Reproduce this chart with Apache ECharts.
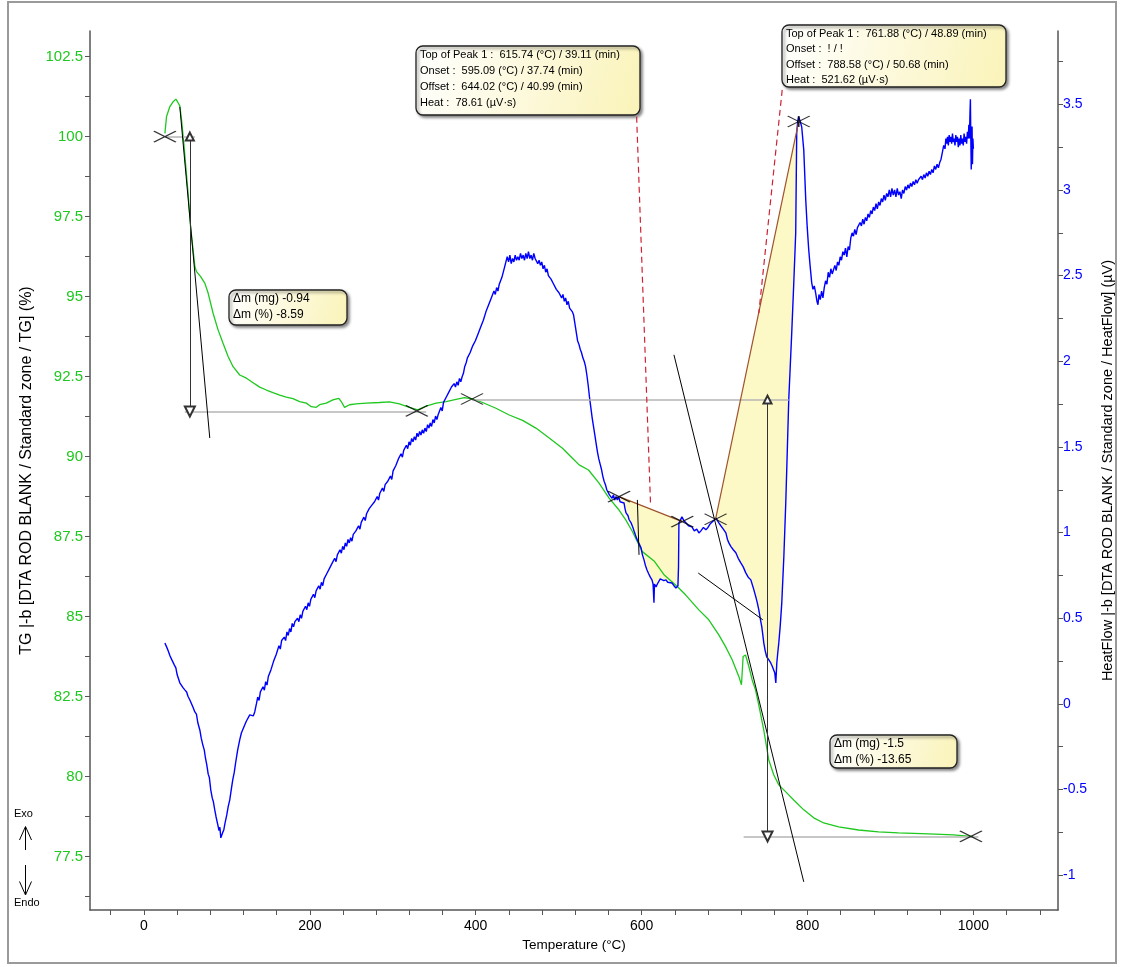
<!DOCTYPE html>
<html>
<head>
<meta charset="utf-8">
<script src="https://cdn.jsdelivr.net/npm/echarts@6/dist/echarts.min.js"></script>
<style>
  html, body { margin: 0; padding: 0; background: #fff; }
  #chart { width: 1123px; height: 967px; }
</style>
</head>
<body>
<div id="chart"></div>
<script>
// Thermogravimetric (TG) trace: [temperature °C, mass %]
const tgCurve = [
  [25.3,100.1],[27.3,100.63],[31.3,100.94],[35.3,101.09],[38.5,101.17],[40.5,101.09],[43.3,100.96],
  [45.4,100.52],[48.1,99.79],[50.5,99.06],[53.3,98.23],[56.2,97.19],[59.3,96.46],[61.4,95.94],
  [63.4,95.78],[65.8,95.83],[68.2,95.63],[73.4,95.42],[77.4,95.11],[83.4,94.48],[89.4,93.96],
  [95.4,93.54],[101.5,93.13],[107.5,92.81],[115.5,92.55],[123.6,92.45],[131.6,92.31],[139.6,92.17],
  [147.6,92.08],[155.6,92.0],[163.7,91.92],[171.7,91.86],[179.7,91.81],[187.7,91.72],[195.8,91.67],
  [201.8,91.56],[207.8,91.54],[211.8,91.62],[219.8,91.67],[227.8,91.77],[235.0,91.82],[237.9,91.72],
  [241.9,91.54],[247.9,91.62],[255.9,91.65],[268.0,91.67],[284.0,91.69],[296.0,91.71],[308.1,91.65],
  [320.1,91.54],[330.1,91.46],[340.2,91.58],[352.2,91.67],[364.3,91.72],[376.3,91.79],[386.3,91.84],
  [396.3,91.80],[408.3,91.69],[424.4,91.51],[440.4,91.30],[456.5,91.13],[472.6,90.89],[488.6,90.58],
  [504.6,90.26],[516.6,89.95],[524.7,89.74],[536.0,89.58],[548.7,89.17],[560.8,88.70],[572.8,88.33],
  [580.9,88.02],[588.9,87.66],[594.9,87.34],[600.9,87.03],[615.0,86.74],[627.0,86.31],[643.0,85.94],
  [653.0,85.68],[669.0,85.21],[681.0,84.90],[693.1,84.43],[701.2,84.06],[709.2,83.65],[717.2,83.13],
  [720.4,82.87],[722.4,83.75],[725.3,83.80],[729.3,83.44],[733.3,83.02],[737.3,82.71],[741.3,82.23],
  [747.3,81.45],[753.3,80.52],[759.4,80.05],[765.4,79.74],[775.0,79.49],[783.4,79.27],[795.5,78.96],
  [807.5,78.71],[819.5,78.55],[837.6,78.43],[861.6,78.33],[885.7,78.27],[909.7,78.24],[945.8,78.21],
  [975.9,78.18],[1000.0,78.12]
];

// Heat flow trace: [temperature °C, µV]
const heatFlowCurve = [
  [25.3,0.356],[26.5,0.36],[27.6,0.33],[28.9,0.315],[30.2,0.32],[31.5,0.28],[33.7,0.257],[35.0,0.262],
  [36.6,0.228],[38.5,0.21],[40.1,0.17],[41.6,0.18],[43.3,0.123],[45.2,0.13],[47.1,0.095],[49.3,0.082],
  [51.5,0.07],[53.1,0.045],[55.4,0.023],[57.0,0.03],[59.2,-0.02],[61.4,-0.047],[63.3,-0.06],[65.0,-0.11],
  [67.4,-0.152],[69.1,-0.2],[71.0,-0.239],[72.8,-0.27],[74.0,-0.31],[75.8,-0.356],[77.5,-0.41],[78.9,-0.43],
  [80.6,-0.502],[82.4,-0.55],[83.7,-0.57],[85.4,-0.619],[87.0,-0.66],[88.0,-0.67],[89.1,-0.706],[90.5,-0.74],
  [91.6,-0.72],[92.7,-0.782],[93.8,-0.79],[95.0,-0.75],[96.3,-0.736],[97.6,-0.70],[98.7,-0.69],[99.9,-0.648],
  [101.6,-0.60],[102.4,-0.61],[103.5,-0.56],[105.3,-0.50],[106.1,-0.51],[107.1,-0.444],[108.9,-0.40],
  [109.8,-0.41],[110.7,-0.339],[113.0,-0.27],[114.2,-0.28],[115.5,-0.21],[117.5,-0.17],[119.3,-0.16],
  [121.5,-0.123],[123.6,-0.10],[125.1,-0.11],[127.6,-0.064],[130.0,-0.06],[131.8,-0.07],[133.6,-0.047],
  [135.6,0.00],[137.2,0.04],[138.8,0.02],[140.4,0.07],[142.0,0.06],[143.6,0.10],[145.2,0.08],[146.8,0.13],
  [148.4,0.11],[150.0,0.16],[151.6,0.15],[153.2,0.20],[154.8,0.19],[156.4,0.25],[158.0,0.24],[159.6,0.29],
  [161.2,0.30],[162.8,0.34],[164.4,0.32],[166.0,0.37],[167.6,0.36],[169.2,0.39],[170.8,0.37],[172.4,0.42],
  [174.0,0.40],[175.6,0.44],[177.2,0.42],[178.8,0.47],[180.4,0.45],[182.0,0.48],[183.6,0.47],[185.2,0.50],
  [186.8,0.48],[188.4,0.52],[190.0,0.50],[191.6,0.54],[193.2,0.53],[194.8,0.57],[196.4,0.55],[198.0,0.59],
  [199.6,0.57],[201.2,0.61],[202.8,0.60],[204.4,0.64],[206.0,0.62],[207.6,0.66],[209.2,0.65],[210.8,0.69],
  [212.4,0.67],[214.0,0.71],[215.6,0.69],[217.2,0.73],[218.8,0.72],[220.4,0.76],[222.0,0.75],[223.6,0.79],
  [225.2,0.78],[226.8,0.82],[228.4,0.81],[230.0,0.85],[231.6,0.83],[233.2,0.87],[234.8,0.86],[236.4,0.90],
  [238.0,0.88],[239.6,0.92],[241.2,0.90],[242.8,0.94],[244.4,0.92],[246.0,0.96],[247.6,0.94],[249.2,0.97],
  [250.8,0.95],[252.4,0.99],[254.0,0.98],[255.6,1.01],[257.2,1.00],[258.8,1.04],[260.4,1.02],[262.0,1.06],
  [263.6,1.05],[265.2,1.09],[266.8,1.07],[268.4,1.11],[270.0,1.10],[271.6,1.14],[273.2,1.13],[274.8,1.16],
  [276.4,1.15],[278.0,1.18],[279.6,1.17],[281.2,1.21],[282.8,1.19],[284.4,1.23],[286.0,1.22],[287.6,1.26],
  [289.2,1.24],[290.8,1.28],[292.4,1.27],[294.0,1.30],[295.6,1.29],[297.2,1.33],[298.8,1.31],[300.4,1.36],
  [302.0,1.35],[303.6,1.39],[305.2,1.38],[306.8,1.43],[308.4,1.42],[310.0,1.46],[311.6,1.44],[313.2,1.48],
  [314.8,1.47],[316.4,1.51],[318.0,1.49],[319.6,1.53],[321.2,1.51],[322.8,1.55],[324.4,1.53],[326.0,1.56],
  [327.6,1.54],[329.2,1.58],[330.8,1.56],[332.4,1.59],[334.0,1.57],[335.6,1.60],[337.2,1.58],[338.8,1.61],
  [340.4,1.59],[342.0,1.63],[343.6,1.61],[345.2,1.64],[346.8,1.62],[348.4,1.66],[350.0,1.64],[351.6,1.68],
  [353.2,1.66],[354.8,1.69],[356.4,1.68],[358.0,1.73],[359.6,1.71],[361.2,1.76],[362.8,1.75],[364.4,1.79],
  [366.0,1.78],[367.6,1.82],[369.2,1.81],[370.8,1.85],[372.4,1.84],[374.0,1.87],[375.6,1.85],[377.2,1.88],
  [378.8,1.86],[380.4,1.90],[382.0,1.88],[383.6,1.91],[385.2,1.93],[386.8,1.97],[388.4,1.99],[390.0,2.02],
  [391.6,2.01],[393.2,2.05],[394.8,2.04],[396.4,2.09],[398.0,2.08],[399.6,2.12],[401.2,2.11],[402.8,2.16],
  [404.4,2.15],[406.0,2.20],[407.6,2.19],[409.2,2.24],[410.8,2.23],[412.4,2.29],[414.0,2.28],[415.6,2.33],
  [417.2,2.32],[418.8,2.37],[420.4,2.38],[422.0,2.41],[423.6,2.39],[425.2,2.43],[426.8,2.41],[428.4,2.45],
  [430.0,2.44],[431.6,2.49],[433.2,2.48],[434.8,2.55],[436.4,2.58],[438.0,2.61],[439.6,2.58],[441.2,2.62],
  [442.8,2.57],[444.4,2.60],[446.0,2.58],[447.6,2.62],[449.2,2.59],[450.8,2.61],[452.4,2.59],[454.0,2.63],
  [455.6,2.60],[457.2,2.62],[458.8,2.59],[460.4,2.63],[462.0,2.60],[463.6,2.64],[465.2,2.60],[466.8,2.62],
  [468.4,2.59],[470.0,2.63],[471.6,2.60],[473.2,2.61],[474.8,2.57],[476.4,2.59],[478.0,2.56],[479.6,2.58],
  [481.2,2.54],[482.8,2.56],[484.4,2.52],[486.0,2.54],[487.6,2.50],[489.2,2.51],[490.8,2.48],[492.4,2.49],
  [494.0,2.45],[495.6,2.46],[497.2,2.42],[498.8,2.43],[500.4,2.40],[502.0,2.41],[503.6,2.37],[505.2,2.39],
  [506.8,2.35],[508.4,2.37],[510.0,2.33],[511.6,2.35],[513.2,2.31],[514.8,2.32],[516.4,2.29],[518.0,2.27],
  [519.6,2.22],[521.2,2.17],[522.8,2.12],[524.4,2.10],[526.0,2.07],[527.6,2.05],[529.2,2.02],[530.8,2.00],
  [532.4,1.97],[534.0,1.92],[535.6,1.86],[537.2,1.79],[538.8,1.73],[540.4,1.67],[542.0,1.62],[543.6,1.57],
  [545.2,1.52],[546.8,1.47],[548.4,1.43],[550.0,1.40],[551.6,1.37],[553.2,1.33],[554.8,1.30],[556.4,1.28],
  [558.0,1.25],[559.6,1.24],[561.2,1.22],[562.8,1.23],[564.4,1.20],[566.0,1.22],[567.6,1.19],[569.2,1.21],
  [570.8,1.19],[572.4,1.21],[574.0,1.18],
  [575.5,1.19],[578.8,1.173],[580.0,1.14],[581.2,1.115],[583.5,1.10],[585.0,1.075],[587.3,1.057],[589.5,1.03],
  [591.5,1.00],[593.3,0.975],[595.5,0.95],[597.5,0.93],[599.3,0.911],[601.0,0.87],[602.9,0.841],[604.5,0.81],
  [606.5,0.782],[608.5,0.76],[610.5,0.74],[612.5,0.724],[613.8,0.70],[614.9,0.59],[615.5,0.70],[617.4,0.683],
  [619.0,0.70],[621.0,0.706],[622.5,0.73],[624.6,0.741],[626.8,0.72],[629.4,0.724],[631.5,0.71],[633.5,0.72],
  [636.6,0.706],[639.0,0.69],[641.4,0.677],[643.8,0.689],[644.5,0.80],[645.0,1.057],[646.5,1.07],[648.6,1.092],
  [651.0,1.07],[653.4,1.057],[656.5,1.04],[658.5,1.05],[660.7,1.033],[663.5,1.01],[666.5,1.02],[669.1,0.998],
  [671.5,1.01],[674.5,1.03],[677.5,1.016],[680.0,1.03],[682.5,1.05],[684.7,1.057],[687.0,1.07],[689.5,1.086],
  [691.5,1.07],[693.1,1.057],[695.5,1.04],[698.5,1.02],[701.6,0.998],[703.5,0.96],[705.2,0.94],[707.5,0.92],
  [710.5,0.90],[713.6,0.882],[716.5,0.85],[719.6,0.823],[722.5,0.80],[725.6,0.765],[728.5,0.74],[731.7,0.724],
  [734.5,0.68],[737.7,0.625],[739.5,0.59],[741.3,0.549],[743.0,0.50],[744.9,0.45],[746.2,0.40],[747.3,0.356],
  [749.0,0.31],[750.9,0.274],[753.0,0.26],[755.7,0.239],[757.5,0.22],[759.4,0.21],[760.6,0.18],[761.8,0.123],
  [763.0,0.239],[764.2,0.30],[765.4,0.356],[767.2,0.46],[769.0,0.59],[771.5,0.86],[773.8,1.173],[775.6,1.47],
  [777.4,1.775],[779.2,1.97],[781.0,2.166],[783.4,2.45],[785.8,2.75],[787.0,3.333],[788.2,3.40],[789.4,3.427],
  [791.2,3.40],[793.0,3.369],[795.5,3.234],[797.9,2.942],[799.7,2.78],[801.5,2.65],[803.3,2.55],
  [805.1,2.458],[806.6,2.42],[808.2,2.44],[809.8,2.40],[811.4,2.35],[812.6,2.33],[813.8,2.39],[815.4,2.36],
  [817.0,2.41],[818.6,2.37],[820.2,2.43],[821.8,2.47],[823.4,2.45],[825.0,2.52],[826.6,2.49],[828.2,2.54],
  [829.8,2.51],[831.4,2.50],[833.0,2.56],[834.6,2.53],[836.2,2.58],[837.8,2.56],[839.4,2.61],[841.0,2.59],
  [842.6,2.64],[844.2,2.62],[845.8,2.66],[847.4,2.61],[849.0,2.67],[850.6,2.65],[852.2,2.72],[853.8,2.75],
  [855.4,2.73],[857.0,2.77],[858.6,2.74],[860.2,2.78],[861.8,2.77],[863.4,2.81],[865.0,2.79],[866.6,2.83],
  [868.2,2.80],[869.8,2.84],[871.4,2.82],[873.0,2.86],[874.6,2.84],[876.2,2.88],[877.8,2.86],[879.4,2.90],
  [881.0,2.88],[882.6,2.92],[884.2,2.89],[885.8,2.93],[887.4,2.91],[889.0,2.95],[890.6,2.93],[892.2,2.97],
  [893.8,2.94],[895.4,2.98],[897.0,2.96],[898.6,3.00],[900.2,2.96],[901.8,3.01],[903.4,2.97],[905.0,3.00],
  [906.6,2.96],[908.2,3.01],[909.8,2.97],[911.4,2.99],[913.0,2.95],[914.6,3.00],[916.2,2.98],[917.8,3.02],
  [919.4,3.00],[921.0,3.03],[922.6,3.01],[924.2,3.04],[925.8,3.02],[927.4,3.05],[929.0,3.03],[930.6,3.06],
  [932.2,3.04],[933.8,3.06],[935.4,3.05],[937.0,3.08],[938.6,3.06],[940.2,3.09],[941.8,3.07],[943.4,3.10],
  [945.0,3.08],[946.6,3.11],[948.2,3.09],[949.8,3.12],[951.4,3.10],[953.0,3.14],[954.6,3.12],[956.2,3.15],
  [957.8,3.13],[959.4,3.16],[961.0,3.18],[962.6,3.22],[964.2,3.26],[965.8,3.24],[966.8,3.30],[967.8,3.27],
  [968.8,3.31],[969.8,3.26],[970.8,3.32],[971.8,3.28],[972.8,3.31],[973.8,3.27],[974.8,3.33],[975.8,3.28],
  [976.8,3.30],[977.8,3.26],[978.8,3.32],[979.8,3.28],[980.8,3.31],[981.8,3.25],[982.8,3.30],[983.8,3.26],
  [984.8,3.32],[985.8,3.27],[986.8,3.30],[987.8,3.26],[988.8,3.33],[989.8,3.28],[990.8,3.31],[991.8,3.27],
  [992.8,3.34],[993.8,3.30],[994.5,3.38],[995.2,3.30],[995.9,3.45],[996.4,3.53],[996.9,3.30],[997.4,3.12],
  [997.9,3.28],[998.4,3.37],[998.9,3.15],[999.4,3.30],[1000.0,3.24]
];

// Axis ticks and labels
const tempTicks = [-40,0,40,80,120,160,200,240,280,320,360,400,440,480,520,560,600,640,680,720,760,800,840,880,920,960,1000,1040,1080];
const tempLabels = [0,200,400,600,800,1000];
const tgTicks = [76.25,77.5,78.75,80,81.25,82.5,83.75,85,86.25,87.5,88.75,90,91.25,92.5,93.75,95,96.25,97.5,98.75,100,101.25,102.5];
const tgLabels = [77.5,80,82.5,85,87.5,90,92.5,95,97.5,100,102.5];
const hfTicks = [-1,-0.75,-0.5,-0.25,0,0.25,0.5,0.75,1,1.25,1.5,1.75,2,2.25,2.5,2.75,3,3.25,3.5,3.75];
const hfLabels = [-1,-0.5,0,0.5,1,1.5,2,2.5,3,3.5];

// Mass-loss evaluation (TG axis)
const stepLevels = [
  [[25.3,100.0],[61.4,100.0]],
  [[49.3,91.41],[340.2,91.41]],
  [[395.5,91.78],[777.4,91.78]],
  [[723.0,78.13],[1006.0,78.13]]
];
const massArrows = [
  [[55.4,100.0],[55.4,91.41]],
  [[751.8,91.78],[751.8,78.13]]
];
const tgTangents = [
  [[43.3,100.93],[79.4,90.58]],
  [[639.0,93.18],[795.5,76.71]],
  [[668.3,86.36],[746.1,84.9]]
];
const tgMarkers = [[25.3,100.0],[329.0,91.43],[395.5,91.80],[997.0,78.13]];

// Peak evaluation (heat-flow axis)
const peak1Baseline = [[572.8,1.210],[649.0,1.064]];
const peak2Baseline = [[689.2,1.078],[789.4,3.40]];
const onsetLine = [[594.9,1.191],[596.9,0.870]];
const leaderLines = [
  [[594.0,3.427],[610.8,1.162]],
  [[769.5,3.584],[741.3,2.281]]
];
const hfMarkers = [[572.8,1.210],[649.0,1.064],[689.2,1.078]];
const hfPeakTop = [[789.4,3.40]];

const peak1Text = ['Top of Peak 1 :  615.74 (°C) / 39.11 (min)', 'Onset :  595.09 (°C) / 37.74 (min)', 'Offset :  644.02 (°C) / 40.99 (min)', 'Heat :  78.61 (µV·s)'];
const peak2Text = ['Top of Peak 1 :  761.88 (°C) / 48.89 (min)', 'Onset :  ! / !', 'Offset :  788.58 (°C) / 50.68 (min)', 'Heat :  521.62 (µV·s)'];
const step1Text = ['\u0394m (mg) -0.94', '\u0394m (%) -8.59'];
const step2Text = ['\u0394m (mg) -1.5', '\u0394m (%) -13.65'];

const FONT = '"Liberation Sans", Arial, sans-serif';
const GREEN = '#1ec81e';
const BLUE = '#0000ff';
const X_MARK = 'path://M0,0L22,11M0,11L22,0';
const X_MARK_TOP = 'path://M0,0L22,11M0,11L22,0M11,0L11,11';

function segs(list, style, extra) {
  return Object.assign({
    type: 'lines', coordinateSystem: 'cartesian2d', xAxisIndex: 0, yAxisIndex: 0,
    silent: true, polyline: false, symbol: 'none', z: 4,
    lineStyle: Object.assign({ opacity: 1, curveness: 0 }, style),
    data: list.map(c => ({ coords: c }))
  }, extra || {});
}

function peakFill(baseline) {
  const a = baseline[0], b = baseline[1];
  const inside = heatFlowCurve.filter(p => p[0] >= a[0] && p[0] <= b[0]);
  const poly = [a].concat(inside, [b]);
  return {
    type: 'custom', xAxisIndex: 0, yAxisIndex: 1, silent: true, z: 1, clip: false,
    data: [[a[0], a[1]]],
    renderItem: function (params, api) {
      return {
        type: 'polygon',
        shape: { points: poly.map(p => api.coord(p)) },
        style: { fill: '#fdf9c6', stroke: 'none' }
      };
    }
  };
}

function noteBox(x, y, w, h, lines, fontSize, lineH) {
  const children = [{
    type: 'rect',
    shape: { x: 0, y: 0, width: w, height: h, r: 7 },
    style: {
      fill: { type: 'linear', x: 0, y: 0, x2: 1, y2: 1,
        colorStops: [{ offset: 0, color: '#ffffff' }, { offset: 1, color: '#faf3b8' }] },
      stroke: '#222', lineWidth: 1.3,
      shadowBlur: 3, shadowOffsetX: 2, shadowOffsetY: 2, shadowColor: 'rgba(0,0,0,0.45)'
    }
  }];
  lines.forEach((t, i) => children.push({
    type: 'text', x: 4, y: 3 + i * lineH,
    style: { text: t, font: fontSize + 'px ' + FONT, fill: '#000' }
  }));
  return { type: 'group', x: x, y: y, z: 20, children: children };
}

const chart = echarts.init(document.getElementById('chart'), null, { renderer: 'canvas' });

chart.setOption({
  animation: false,
  backgroundColor: '#ffffff',
  grid: { left: 90, right: 64, top: 31, bottom: 57, containLabel: false },
  xAxis: {
    type: 'value', min: -65, max: 1102,
    name: 'Temperature (°C)', nameLocation: 'middle', nameGap: 27,
    nameTextStyle: { color: '#000', fontSize: 13.5, fontFamily: FONT },
    axisLine: { show: true, onZero: false, lineStyle: { color: '#555', width: 1.5 } },
    axisTick: { show: true, length: 5, lineStyle: { color: '#555' }, customValues: tempTicks },
    axisLabel: { color: '#000', fontSize: 14, fontFamily: FONT, margin: 9, customValues: tempLabels,
      formatter: v => String(v) },
    splitLine: { show: false }
  },
  yAxis: [
    {
      type: 'value', position: 'left', min: 75.83, max: 103.30,
      name: 'TG |-b [DTA ROD BLANK / Standard zone / TG] (%)', nameLocation: 'middle', nameGap: 50,
      nameTextStyle: { color: '#000', fontSize: 16, fontFamily: FONT },
      axisLine: { show: true, onZero: false, lineStyle: { color: '#555', width: 1.5 } },
      axisTick: { show: true, length: 5, lineStyle: { color: '#555' }, customValues: tgTicks },
      axisLabel: { color: GREEN, fontSize: 15, fontFamily: FONT, margin: 7, customValues: tgLabels },
      splitLine: { show: false }
    },
    {
      type: 'value', position: 'right', min: -1.203, max: 3.928,
      name: 'HeatFlow |-b [DTA ROD BLANK / Standard zone / HeatFlow] (µV)', nameLocation: 'middle', nameGap: 42,
      nameTextStyle: { color: '#000', fontSize: 14.5, fontFamily: FONT },
      axisLine: { show: true, onZero: false, lineStyle: { color: '#555', width: 1.5 } },
      axisTick: { show: true, length: 5, lineStyle: { color: '#555' }, customValues: hfTicks },
      axisLabel: { color: BLUE, fontSize: 14, fontFamily: FONT, margin: 5, customValues: hfLabels },
      splitLine: { show: false }
    }
  ],
  series: [
    peakFill(peak1Baseline),
    peakFill(peak2Baseline),
    {
      name: 'TG', type: 'line', xAxisIndex: 0, yAxisIndex: 0, data: tgCurve,
      showSymbol: false, silent: true, z: 3,
      lineStyle: { color: GREEN, width: 1.3 }
    },
    {
      name: 'HeatFlow', type: 'line', xAxisIndex: 0, yAxisIndex: 1, data: heatFlowCurve,
      showSymbol: false, silent: true, z: 3,
      lineStyle: { color: BLUE, width: 1.4 }
    },
    segs(stepLevels, { color: '#b4b4b4', width: 1.5 }),
    segs(massArrows, { color: '#333', width: 1 }, { symbol: ['emptyTriangle', 'emptyTriangle'], symbolSize: [8, 10], z: 5 }),
    segs(tgTangents, { color: '#000', width: 1 }),
    segs([peak1Baseline, peak2Baseline], { color: '#a0522d', width: 1.2 }, { yAxisIndex: 1 }),
    segs([onsetLine], { color: '#000', width: 1 }, { yAxisIndex: 1 }),
    segs(leaderLines, { color: '#cc2233', width: 1.2, type: [6, 4] }, { yAxisIndex: 1 }),
    {
      type: 'scatter', xAxisIndex: 0, yAxisIndex: 0, data: tgMarkers, silent: true, z: 6,
      symbol: X_MARK, symbolSize: [22, 11],
      itemStyle: { color: 'rgba(0,0,0,0)', borderColor: '#000', borderWidth: 1.3 }
    },
    {
      type: 'scatter', xAxisIndex: 0, yAxisIndex: 1, data: hfMarkers, silent: true, z: 6,
      symbol: X_MARK, symbolSize: [22, 11],
      itemStyle: { color: 'rgba(0,0,0,0)', borderColor: '#000', borderWidth: 1.3 }
    },
    {
      type: 'scatter', xAxisIndex: 0, yAxisIndex: 1, data: hfPeakTop, silent: true, z: 6,
      symbol: X_MARK_TOP, symbolSize: [22, 11],
      itemStyle: { color: 'rgba(0,0,0,0)', borderColor: '#000', borderWidth: 1.3 }
    }
  ],
  graphic: [
    {
      type: 'rect', z: 0, silent: true,
      shape: { x: 8, y: 2, width: 1108, height: 961 },
      style: { fill: 'none', stroke: '#9a9a9a', lineWidth: 2 }
    },
    noteBox(416, 46, 224, 69, peak1Text, 11, 16),
    noteBox(782, 25, 224, 62, peak2Text, 11, 15.5),
    noteBox(229, 290, 118, 35, step1Text, 12, 16),
    noteBox(830, 735, 127, 33, step2Text, 12, 15.5),
    { type: 'text', x: 14, y: 808, style: { text: 'Exo', font: '11px ' + FONT, fill: '#000' } },
    { type: 'text', x: 14, y: 897, style: { text: 'Endo', font: '11px ' + FONT, fill: '#000' } },
    { type: 'polyline', shape: { points: [[25.5, 850], [25.5, 827]] }, style: { stroke: '#000', lineWidth: 1, fill: 'none' } },
    { type: 'polyline', shape: { points: [[19.5, 840], [25.5, 826.5], [31.5, 840]] }, style: { stroke: '#000', lineWidth: 1, fill: 'none' } },
    { type: 'polyline', shape: { points: [[25.5, 865], [25.5, 894]] }, style: { stroke: '#000', lineWidth: 1, fill: 'none' } },
    { type: 'polyline', shape: { points: [[19.5, 881.5], [25.5, 895], [31.5, 881.5]] }, style: { stroke: '#000', lineWidth: 1, fill: 'none' } }
  ]
});
</script>
</body>
</html>
